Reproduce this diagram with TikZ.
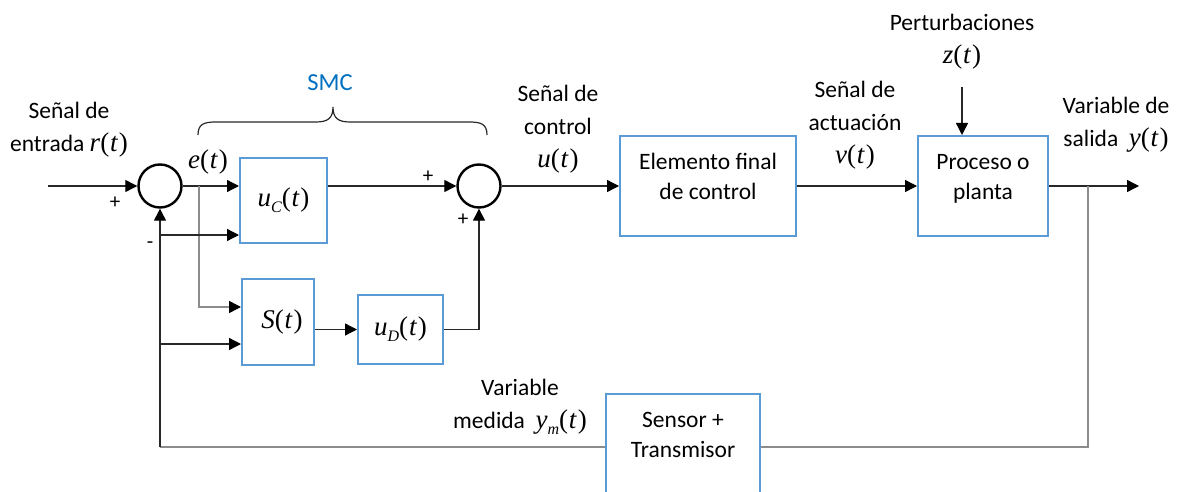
\documentclass[tikz,border=0pt]{standalone}
\usepackage{fontspec}
\setmainfont{Carlito}
\newfontfamily\tmath{Liberation Serif}
\usetikzlibrary{arrows.meta,calc}
\definecolor{boxblue}{RGB}{91,155,213}
\definecolor{smcblue}{RGB}{0,112,192}
\definecolor{ln}{RGB}{40,40,40}
\definecolor{lngray}{RGB}{140,140,140}
\newcommand\fnt[1]{{\tmath\fontsize{27}{30}\selectfont\textit{#1}(\kern0.8pt\textit{t}\kern0.8pt)}}
\newcommand\fnsub[2]{{\tmath\fontsize{27}{30}\selectfont\textit{#1}\raisebox{-6pt}{\fontsize{16}{16}\selectfont\textit{#2}}(\kern0.8pt\textit{t}\kern0.8pt)}}
\tikzset{
  blk/.style={draw=boxblue, line width=2pt, inner sep=0pt, align=center},
  sumc/.style={circle, draw=black, line width=2.4pt, minimum size=43pt, inner sep=0pt},
  lbl/.style={align=center, font=\fontsize{23.5}{33}\selectfont, inner sep=0pt},
  boxtxt/.style={align=center, font=\fontsize{23.5}{30}\selectfont, inner sep=0pt},
  tip/.style={-{Triangle[length=12pt,width=12pt,color=black]}},
  arr/.style={draw=ln, line width=1.3pt, tip},
  wire/.style={draw=ln, line width=1.3pt},
  gwire/.style={draw=lngray, line width=1.6pt},
  sign/.style={font=\fontsize{21}{21}\selectfont, inner sep=0pt},
}
\begin{document}
\begin{tikzpicture}[x=1pt,y=-1pt]
\useasboundingbox (0,0) rectangle (1180,492);
\fill[white] (0,0) rectangle (1180,492);
\clip (0,0) rectangle (1180,492);

% summing junctions
\node[sumc] (s1) at (160,186) {};
\node[sumc] (s2) at (479,186) {};

% blocks
\node[blk, minimum width=87pt, minimum height=85pt] (uc) at (283.5,200.5) {\fnsub{u}{C}};
\node[blk, minimum width=72pt, minimum height=86pt] (st) at (278,322) {\hspace*{8pt}\fnt{S}};
\node[blk, minimum width=85pt, minimum height=69pt] (ud) at (400.5,329.5) {\fnsub{u}{D}};
\node[blk, minimum width=176pt, minimum height=99pt] (efc) at (708,186) {};
\node[boxtxt] (efctxt) at (708,176) {Elemento final\\de control};
\node[blk, minimum width=130pt, minimum height=100pt] (plant) at (983,186) {};
\node[boxtxt] (planttxt) at (983,178.5) {Proceso o\\planta};
\node[blk, minimum width=154pt, minimum height=130pt, anchor=north] (sensor) at (683,393) {};
\node[boxtxt] (sensortxt) at (683,435) {Sensor +\\Transmisor};

% helper coordinates
\coordinate (rin) at (48,186);
\coordinate (eb) at (199,186);
\coordinate (fb1) at (160,235);
\coordinate (fb2) at (160,344);
\coordinate (fbv) at (160,447);
\coordinate (brk) at (1088,186);
\coordinate (fbr) at (1088,447);
\coordinate (yout) at (1139,186);
\coordinate (zin) at (962,87);

% connectors
\draw[arr] (rin) -- (s1.west);
\draw[arr] (s1.east) -- (uc.west |- s1.east);
\draw[gwire, tip] (eb) |- ($(st.west)+(0,-15)$);
\draw[arr] (fb1) -- (uc.west |- fb1);
\draw[arr] (fb2) -- (st.west |- fb2);
\draw[arr] (st.east |- ud.west) -- (ud.west);
\draw[arr] (uc.east |- s2.west) -- (s2.west);
\draw[arr] (ud.east) -| (s2.south);
\draw[arr] (s2.east) -- (efc.west |- s2.east);
\draw[arr] (efc.east) -- (plant.west);
\draw[arr] (plant.east) -- (yout);
\draw[arr] (zin) -- (zin |- plant.north);
\draw[gwire] (brk) -- (fbr) -- (sensor.east |- fbr);
\draw[gwire] (sensor.west |- fbr) -- (fbv);
\draw[arr] (fbv) -- (s1.south);

% brace
\draw[draw=ln, line width=1.2pt] (198,135) .. controls (198,124) and (204,122) .. (216,122) -- (316,122) .. controls (328,122) and (333,118) .. (333,107) .. controls (333,118) and (338,122) .. (350,122) -- (469,122) .. controls (481,122) and (487,124) .. (487,135);

% labels
\node[lbl, text=smcblue, font=\fontsize{24.5}{30}\selectfont] (smc) at (330,83) {SMC};
\node[lbl] (rlbl) at (69,130) {Señal de\\entrada \fnt{r}};
\node[lbl] (elbl) at (208,162) {\fnt{e}};
\node[lbl] (ulbl) at (558,129.5) {Señal de\\control\\\fnt{u}};
\node[lbl] (vlbl) at (855,125.5) {Señal de\\actuación\\\fnt{v}};
\node[lbl] (zlbl) at (962,41.5) {Perturbaciones\\\fnt{z}};
\node[lbl] (ylbl) at (1116,125) {Variable de\\salida \ \fnt{y}};
\node[lbl] (ymlbl) at (520,407) {Variable\\medida \ \fnsub{y}{m}};

% signs
\node[sign] (p1) at (115,203) {+};
\node[sign] (m1) at (150,245) {-};
\node[sign] (p2) at (428,177) {+};
\node[sign] (p3) at (463,220) {+};
\end{tikzpicture}
\end{document}
